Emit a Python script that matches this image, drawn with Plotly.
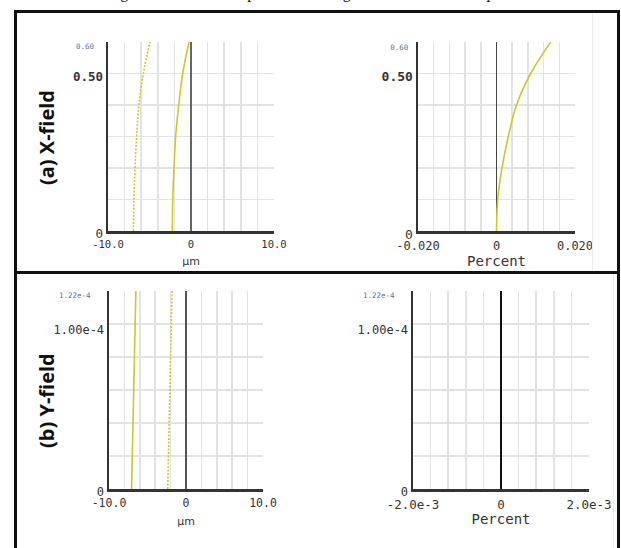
import plotly.graph_objects as go

# ---------------- data ----------------
# (a) X-field : field curvature (um) vs field, distortion (%) vs field
xfield_y = [0.0, 0.1, 0.2, 0.3, 0.4, 0.5, 0.6]
xfield_tan = [-2.25, -2.20, -2.05, -1.85, -1.48, -1.00, -0.24]
xfield_sag = [-6.95, -6.87, -6.75, -6.55, -6.27, -5.74, -4.94]
xfield_dist = [0.0, 0.0003, 0.0014, 0.0030, 0.0051, 0.0087, 0.0138]

# (b) Y-field
yfield_y = [0.0, 6.1e-5, 1.22e-4]
yfield_tan = [-7.07, -6.80, -6.51]
yfield_sag = [-2.37, -2.12, -1.81]
yfield_dist = [0.0, 0.0, 0.0]

panel_labels = ["(a) X-field", "(b) Y-field"]
fc_title = "μm"
dist_title = "Percent"
caption = "Fig. 8. The simulated plots of an image field curvature and percent distortion"

W, H = 621, 548
CURVE = "#c9c92a"
GRID = "#e3e3e3"
AXL = "#333333"
SMALL = "#5d6f96"
MONO = "DejaVu Sans Mono"
DOT = "2px,1.5px"


def px(x):
    return x / W


def py(y):
    return 1 - y / H


fig = go.Figure()

fig.add_trace(go.Scatter(x=xfield_tan, y=xfield_y, mode="lines", line=dict(color=CURVE, width=1.6, shape="spline"),
                         xaxis="x", yaxis="y", showlegend=False))
fig.add_trace(go.Scatter(x=xfield_sag, y=xfield_y, mode="lines", line=dict(color=CURVE, width=1.6, dash=DOT, shape="spline"),
                         xaxis="x", yaxis="y", showlegend=False))
fig.add_trace(go.Scatter(x=xfield_dist, y=xfield_y, mode="lines", line=dict(color=CURVE, width=1.6, shape="spline"),
                         xaxis="x2", yaxis="y2", showlegend=False))
fig.add_trace(go.Scatter(x=yfield_tan, y=yfield_y, mode="lines", line=dict(color=CURVE, width=1.6),
                         xaxis="x3", yaxis="y3", showlegend=False))
fig.add_trace(go.Scatter(x=yfield_sag, y=yfield_y, mode="lines", line=dict(color=CURVE, width=1.6, dash=DOT),
                         xaxis="x3", yaxis="y3", showlegend=False))
fig.add_trace(go.Scatter(x=yfield_dist, y=yfield_y, mode="lines", line=dict(color="#111111", width=1.6),
                         xaxis="x4", yaxis="y4", showlegend=False))


def xax(domain, rng, tickvals, ticktext, dtick, size, anchor, title, tsize, zc, zw, standoff):
    return dict(domain=domain, range=rng, anchor=anchor, tickvals=tickvals, ticktext=ticktext,
                automargin=False,
                showgrid=True, gridcolor=GRID, gridwidth=1.5,
                minor=dict(tick0=rng[0], dtick=dtick, showgrid=True, gridcolor=GRID, gridwidth=1.5),
                showline=True, linecolor=AXL, linewidth=2.5, ticks="", ticklabelstandoff=2,
                zeroline=True, zerolinecolor=zc, zerolinewidth=zw,
                tickfont=dict(family=MONO, size=size, color="#333333"),
                title=dict(text=title, font=dict(family=MONO if title == dist_title else "DejaVu Sans", size=tsize, color="#333333"),
                           standoff=standoff),
                fixedrange=True)


def yax(domain, rng, tickvals, ticktext, dtick, size, anchor):
    return dict(domain=domain, range=rng, anchor=anchor, tickvals=tickvals, ticktext=ticktext,
                automargin=False,
                showgrid=False,
                minor=dict(tick0=0, dtick=dtick, showgrid=True, gridcolor=GRID, gridwidth=1.5),
                showline=True, linecolor=AXL, linewidth=2.5, ticks="", zeroline=False, ticklabelshift=3,
                tickfont=dict(family=MONO, size=size, color="#333333"), fixedrange=True)


def small(t, pad):
    return f"<span style='font-size:7.5px;color:{SMALL}'>{t}{'&nbsp;' * pad}</span>"


ydom_top = [py(231), py(42)]
ydom_bot = [py(489), py(291)]

fig.update_layout(
    width=W, height=H, margin=dict(l=0, r=0, t=0, b=0, autoexpand=False),
    paper_bgcolor="white", plot_bgcolor="white",
    xaxis=xax([px(108), px(274)], [-10, 10], [-10, 0, 10], ["-10.0", "0", "10.0"], 2, 10.5, "y",
              fc_title, 11, "#666666", 2, 8),
    yaxis=yax(ydom_top, [0, 0.6], [0, 0.5, 0.6], ["0", "<b>0.50</b>", small("0.60", 2)], 0.1, 12.5, "x"),
    xaxis2=xax([px(418), px(575)], [-0.02, 0.02], [-0.02, 0, 0.02], ["-0.020", "0", "0.020"], 0.004, 12, "y2",
               dist_title, 14, "#444444", 1.5, 3),
    yaxis2=yax(ydom_top, [0, 0.6], [0, 0.5, 0.6], ["0", "<b>0.50</b>", small("0.60", 1)], 0.1, 13, "x2"),
    xaxis3=xax([px(109), px(263)], [-10, 10], [-10, 0, 10], ["-10.0", "0", "10.0"], 2, 11.5, "y3",
               fc_title, 11, "#555555", 1.5, 8),
    yaxis3=yax(ydom_bot, [0, 1.22e-4], [0, 1.0e-4, 1.22e-4], ["0", "1.00e-4", small("1.22e-4", 3)], 1.22e-4 / 6, 12, "x3"),
    xaxis4=xax([px(413), px(589)], [-0.002, 0.002], [-0.002, 0, 0.002], ["-2.0e-3", "0", "2.0e-3"], 0.0004, 12.5, "y4",
               dist_title, 14, "#111111", 2, 4),
    yaxis4=yax(ydom_bot, [0, 1.22e-4], [0, 1.0e-4, 1.22e-4], ["0", "1.00e-4", small("1.22e-4", 3)], 1.22e-4 / 6, 12, "x4"),
)

shapes = []
def seg(x0, y0, x1, y1, color="#111111", w=3):
    shapes.append(dict(type="line", xref="paper", yref="paper", x0=px(x0), y0=py(y0), x1=px(x1), y1=py(y1),
                       line=dict(color=color, width=w), layer="above"))

seg(592.5, 13, 592.5, 271, "#eeeeee", 1)
seg(613.5, 274, 613.5, 548, "#eeeeee", 1)
seg(15.5, 10, 15.5, 548)
seg(14, 11.5, 620, 11.5)
seg(618.5, 10, 618.5, 548)
seg(14, 272.5, 620, 272.5)
fig.update_layout(shapes=shapes)

fig.add_annotation(x=px(46), y=py(138), xref="paper", yref="paper", text=f"<b>{panel_labels[0]}</b>",
                   xanchor="center", yanchor="middle",
                   textangle=-90, showarrow=False, font=dict(family="Open Sans", size=20, color="#111111"))
fig.add_annotation(x=px(46), y=py(401), xref="paper", yref="paper", text=f"<b>{panel_labels[1]}</b>",
                   xanchor="center", yanchor="middle",
                   textangle=-90, showarrow=False, font=dict(family="Open Sans", size=20, color="#111111"))
fig.add_annotation(x=px(105), y=py(-7.5), xref="paper", yref="paper", text=caption, xanchor="left", yanchor="middle",
                   showarrow=False, font=dict(family="Liberation Serif", size=16, color="#111111"))

fig.write_html("out.html", config={"displayModeBar": False, "staticPlot": True},
               post_script="document.body.style.margin='0';document.body.style.overflow='hidden';")
